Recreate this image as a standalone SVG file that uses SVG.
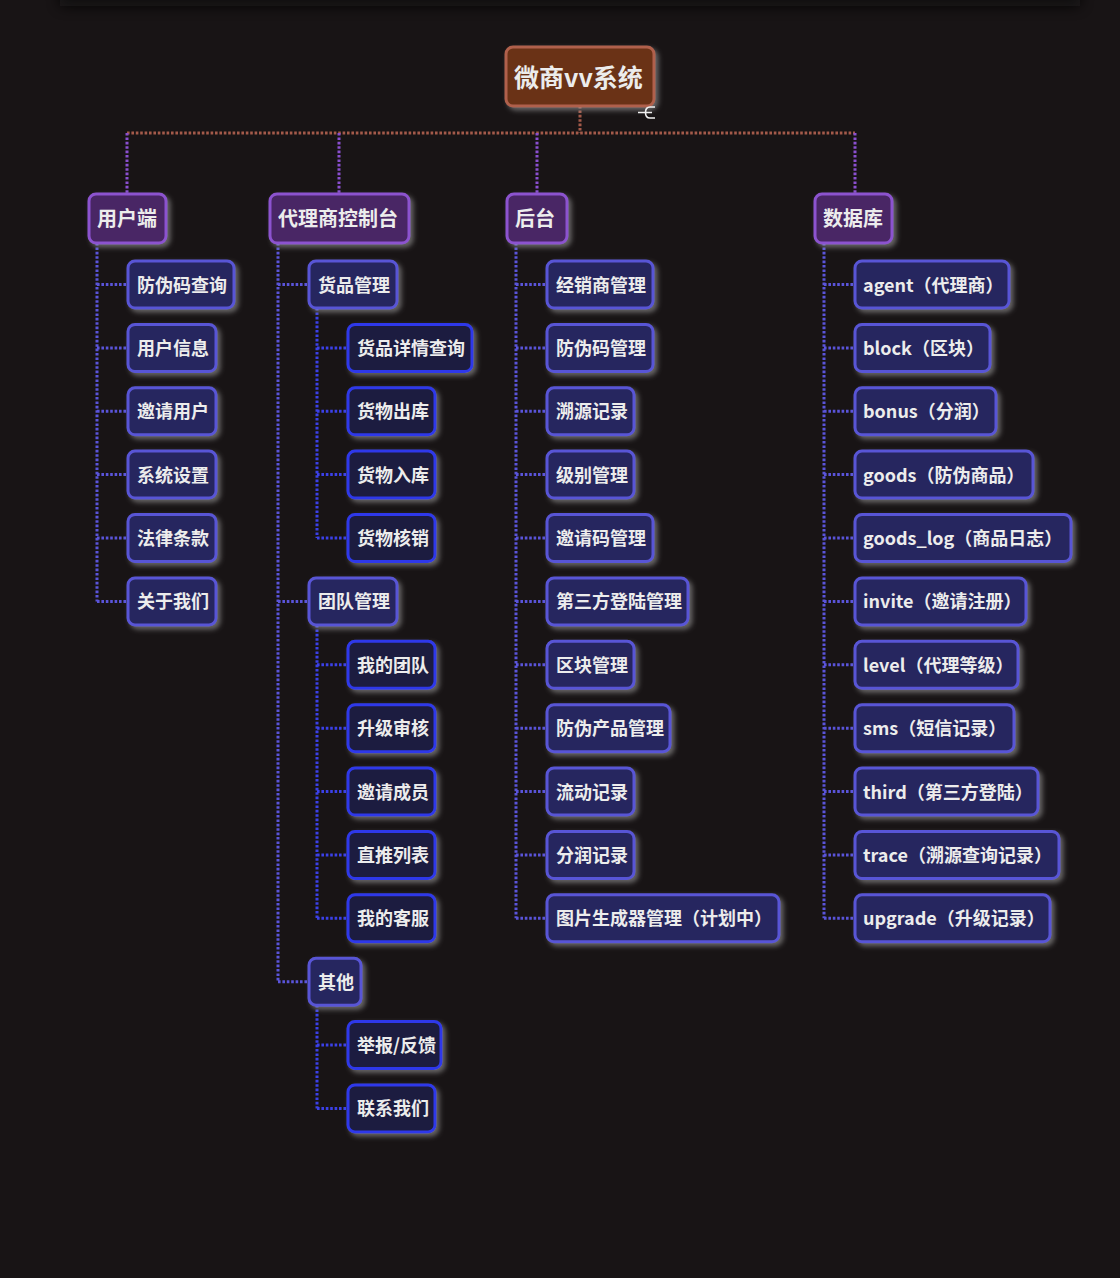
<svg xmlns="http://www.w3.org/2000/svg" width="1120" height="1278" viewBox="0 0 1120 1278">
<defs>
<filter id="sh" x="-20%" y="-30%" width="150%" height="180%">
<feDropShadow dx="3" dy="3" stdDeviation="2.5" flood-color="#a8a8a8" flood-opacity="0.55"/>
</filter>
<filter id="topblur" x="-5%" y="-100%" width="110%" height="300%">
<feGaussianBlur stdDeviation="7"/>
</filter>
<style>
text{font-family:"Noto Sans CJK SC","Noto Sans",sans-serif;font-weight:700;fill:#ececec;dominant-baseline:central;transform:translateY(-1px)}
.t3{font-size:18px}
.t1{font-size:20px}
.t0{font-size:25px}
.root{fill:#6a3319;stroke:#b0604b;stroke-width:3}
.l1{fill:#4a2565;stroke:#8c52cf;stroke-width:3}
.l2{fill:#28275f;stroke:#5955d6;stroke-width:3}
.l3{fill:#1c1c3f;stroke:#2e39ea;stroke-width:3}
.box{filter:url(#sh)}
.c{fill:none;stroke-width:3;stroke-dasharray:2.6 1.8}
.cb{stroke:#a45a4a}
.cp{stroke:#8a4fd0}
.c2{stroke:#5a54da}
.c3{stroke:#3b40e8}
</style>
</defs>
<rect width="1120" height="1278" fill="#181415"/>
<rect x="60" y="-16" width="1020" height="22" fill="#0c0b0c" opacity="0.85" filter="url(#topblur)"/>

<g id="connectors">
<path class="c cb" d="M580,106V133M127,133H855"/>
<path class="c cp" d="M127,133V194M339,133V194M537,133V194M855,133V194"/>
<path class="c c2" d="M97,243V601.4M97,284.5H128M97,348H128M97,411.3H128M97,474.6H128M97,538H128M97,601.4H128"/>
<path class="c c2" d="M278,243V981.7M278,284.5H309M278,601.4H309M278,981.7H309"/>
<path class="c c3" d="M317,308V538M317,348H348M317,411.3H348M317,474.6H348M317,538H348"/>
<path class="c c3" d="M317,625V918.3M317,664.8H348M317,728.2H348M317,791.5H348M317,855H348M317,918.3H348"/>
<path class="c c3" d="M317,1005V1108.4M317,1045H348M317,1108.4H348"/>
<path class="c c2" d="M516,243V918.3M516,284.5H547M516,348H547M516,411.3H547M516,474.6H547M516,538H547M516,601.4H547M516,664.8H547M516,728.2H547M516,791.5H547M516,855H547M516,918.3H547"/>
<path class="c c2" d="M824,243V918.3M824,284.5H855M824,348H855M824,411.3H855M824,474.6H855M824,538H855M824,601.4H855M824,664.8H855M824,728.2H855M824,791.5H855M824,855H855M824,918.3H855"/>
</g>

<g id="root">
<rect class="root box" x="506" y="47" width="148" height="59" rx="7"/>
<text class="t0" x="514" y="77">微商vv系统</text>
<path d="M638,112.5H652M655,107H650Q645.5,107 645.5,112.5Q645.5,118 650,118H655" fill="none" stroke="#f0f0f0" stroke-width="1.6"/>
</g>

<g id="n-user"><rect class="l1 box" x="89" y="194" width="77" height="49" rx="7"/><text class="t1" x="97" y="218.5">用户端</text></g>
<g id="n-agent"><rect class="l1 box" x="270" y="194" width="139" height="49" rx="7"/><text class="t1" x="278" y="218.5">代理商控制台</text></g>
<g id="n-admin"><rect class="l1 box" x="507" y="194" width="60" height="49" rx="7"/><text class="t1" x="515" y="218.5">后台</text></g>
<g id="n-db"><rect class="l1 box" x="815" y="194" width="77" height="49" rx="7"/><text class="t1" x="823" y="218.5">数据库</text></g>

<g id="u1"><rect class="l2 box" x="128" y="261" width="106" height="47" rx="7"/><text class="t3" x="137" y="284.5">防伪码查询</text></g>
<g id="u2"><rect class="l2 box" x="128" y="324.5" width="88" height="47" rx="7"/><text class="t3" x="137" y="348">用户信息</text></g>
<g id="u3"><rect class="l2 box" x="128" y="387.8" width="88" height="47" rx="7"/><text class="t3" x="137" y="411.3">邀请用户</text></g>
<g id="u4"><rect class="l2 box" x="128" y="451.1" width="88" height="47" rx="7"/><text class="t3" x="137" y="474.6">系统设置</text></g>
<g id="u5"><rect class="l2 box" x="128" y="514.5" width="88" height="47" rx="7"/><text class="t3" x="137" y="538">法律条款</text></g>
<g id="u6"><rect class="l2 box" x="128" y="577.9" width="88" height="47" rx="7"/><text class="t3" x="137" y="601.4">关于我们</text></g>

<g id="a1"><rect class="l2 box" x="309" y="261" width="88" height="47" rx="7"/><text class="t3" x="318" y="284.5">货品管理</text></g>
<g id="a1-1"><rect class="l3 box" x="348" y="324.5" width="124" height="47" rx="7"/><text class="t3" x="357" y="348">货品详情查询</text></g>
<g id="a1-2"><rect class="l3 box" x="348" y="387.8" width="87" height="47" rx="7"/><text class="t3" x="357" y="411.3">货物出库</text></g>
<g id="a1-3"><rect class="l3 box" x="348" y="451.1" width="87" height="47" rx="7"/><text class="t3" x="357" y="474.6">货物入库</text></g>
<g id="a1-4"><rect class="l3 box" x="348" y="514.5" width="87" height="47" rx="7"/><text class="t3" x="357" y="538">货物核销</text></g>
<g id="a2"><rect class="l2 box" x="309" y="577.9" width="88" height="47" rx="7"/><text class="t3" x="318" y="601.4">团队管理</text></g>
<g id="a2-1"><rect class="l3 box" x="348" y="641.3" width="87" height="47" rx="7"/><text class="t3" x="357" y="664.8">我的团队</text></g>
<g id="a2-2"><rect class="l3 box" x="348" y="704.7" width="87" height="47" rx="7"/><text class="t3" x="357" y="728.2">升级审核</text></g>
<g id="a2-3"><rect class="l3 box" x="348" y="768" width="87" height="47" rx="7"/><text class="t3" x="357" y="791.5">邀请成员</text></g>
<g id="a2-4"><rect class="l3 box" x="348" y="831.5" width="87" height="47" rx="7"/><text class="t3" x="357" y="855">直推列表</text></g>
<g id="a2-5"><rect class="l3 box" x="348" y="894.8" width="87" height="47" rx="7"/><text class="t3" x="357" y="918.3">我的客服</text></g>
<g id="a3"><rect class="l2 box" x="309" y="958.2" width="52" height="47" rx="7"/><text class="t3" x="318" y="981.7">其他</text></g>
<g id="a3-1"><rect class="l3 box" x="348" y="1021.5" width="93" height="47" rx="7"/><text class="t3" x="357" y="1045">举报/反馈</text></g>
<g id="a3-2"><rect class="l3 box" x="348" y="1084.9" width="87" height="47" rx="7"/><text class="t3" x="357" y="1108.4">联系我们</text></g>

<g id="b1"><rect class="l2 box" x="547" y="261" width="106" height="47" rx="7"/><text class="t3" x="556" y="284.5">经销商管理</text></g>
<g id="b2"><rect class="l2 box" x="547" y="324.5" width="106" height="47" rx="7"/><text class="t3" x="556" y="348">防伪码管理</text></g>
<g id="b3"><rect class="l2 box" x="547" y="387.8" width="87" height="47" rx="7"/><text class="t3" x="556" y="411.3">溯源记录</text></g>
<g id="b4"><rect class="l2 box" x="547" y="451.1" width="87" height="47" rx="7"/><text class="t3" x="556" y="474.6">级别管理</text></g>
<g id="b5"><rect class="l2 box" x="547" y="514.5" width="106" height="47" rx="7"/><text class="t3" x="556" y="538">邀请码管理</text></g>
<g id="b6"><rect class="l2 box" x="547" y="577.9" width="141" height="47" rx="7"/><text class="t3" x="556" y="601.4">第三方登陆管理</text></g>
<g id="b7"><rect class="l2 box" x="547" y="641.3" width="87" height="47" rx="7"/><text class="t3" x="556" y="664.8">区块管理</text></g>
<g id="b8"><rect class="l2 box" x="547" y="704.7" width="123" height="47" rx="7"/><text class="t3" x="556" y="728.2">防伪产品管理</text></g>
<g id="b9"><rect class="l2 box" x="547" y="768" width="87" height="47" rx="7"/><text class="t3" x="556" y="791.5">流动记录</text></g>
<g id="b10"><rect class="l2 box" x="547" y="831.5" width="87" height="47" rx="7"/><text class="t3" x="556" y="855">分润记录</text></g>
<g id="b11"><rect class="l2 box" x="547" y="894.8" width="232" height="47" rx="7"/><text class="t3" x="556" y="918.3">图片生成器管理（计划中）</text></g>

<g id="d1"><rect class="l2 box" x="855" y="261" width="154" height="47" rx="7"/><text class="t3" x="863" y="284.5">agent（代理商）</text></g>
<g id="d2"><rect class="l2 box" x="855" y="324.5" width="135" height="47" rx="7"/><text class="t3" x="863" y="348">block（区块）</text></g>
<g id="d3"><rect class="l2 box" x="855" y="387.8" width="141" height="47" rx="7"/><text class="t3" x="863" y="411.3">bonus（分润）</text></g>
<g id="d4"><rect class="l2 box" x="855" y="451.1" width="178" height="47" rx="7"/><text class="t3" x="863" y="474.6">goods（防伪商品）</text></g>
<g id="d5"><rect class="l2 box" x="855" y="514.5" width="216" height="47" rx="7"/><text class="t3" x="863" y="538">goods_log（商品日志）</text></g>
<g id="d6"><rect class="l2 box" x="855" y="577.9" width="171" height="47" rx="7"/><text class="t3" x="863" y="601.4">invite（邀请注册）</text></g>
<g id="d7"><rect class="l2 box" x="855" y="641.3" width="163" height="47" rx="7"/><text class="t3" x="863" y="664.8">level（代理等级）</text></g>
<g id="d8"><rect class="l2 box" x="855" y="704.7" width="159" height="47" rx="7"/><text class="t3" x="863" y="728.2">sms（短信记录）</text></g>
<g id="d9"><rect class="l2 box" x="855" y="768" width="183" height="47" rx="7"/><text class="t3" x="863" y="791.5">third（第三方登陆）</text></g>
<g id="d10"><rect class="l2 box" x="855" y="831.5" width="204" height="47" rx="7"/><text class="t3" x="863" y="855">trace（溯源查询记录）</text></g>
<g id="d11"><rect class="l2 box" x="855" y="894.8" width="195" height="47" rx="7"/><text class="t3" x="863" y="918.3">upgrade（升级记录）</text></g>
</svg>
